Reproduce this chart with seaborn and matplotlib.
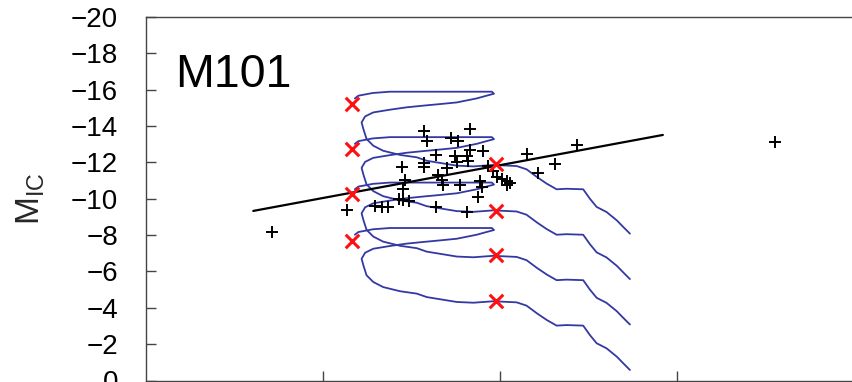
import matplotlib
matplotlib.use("Agg")
import matplotlib.pyplot as plt
import numpy as np
import pandas as pd
import seaborn as sns

# Star-cluster photometry in M101: colour and absolute Ic magnitude
cluster_color = [0.355, 0.786, 0.793, 0.915, 0.862, 0.881, 0.915, 0.953, 0.819, 0.873,
                 0.910, 0.878, 0.786, 0.786, 0.723, 0.849, 0.967, 1.075, 1.108, 1.155,
                 1.217, 0.732, 0.825, 0.835, 0.840, 0.887, 0.944, 0.949, 0.980, 0.992,
                 1.006, 1.020, 1.028, 1.020, 0.725, 0.938, 0.715, 0.727, 0.742, 0.567,
                 0.647, 0.668, 0.684, 0.819, 0.906, 1.777, 0.906]
cluster_mag = [-8.15, -13.74, -13.18, -13.84, -13.33, -13.18, -12.68, -12.65, -12.38, -12.35,
               -12.08, -12.04, -11.97, -11.73, -11.72, -11.69, -11.80, -12.46, -11.43, -11.91,
               -12.96, -11.03, -11.28, -11.03, -10.76, -10.76, -10.95, -10.67, -11.53, -11.21,
               -11.11, -10.98, -10.85, -10.73, -10.54, -10.12, -10.01, -9.93, -9.88, -9.38,
               -9.60, -9.52, -9.52, -9.57, -9.27, -13.11, -12.35]

# Linear fit through the clusters (end points)
fit_color = [0.303, 1.460]
fit_mag = [-9.33, -13.51]

# Evolutionary tracks for four cluster masses (shared colour sequence)
track_color = [0.590, 0.600, 0.641, 0.689, 0.831, 0.977, 0.983, 0.962, 0.934, 0.878,
               0.831, 0.782, 0.736, 0.689, 0.642, 0.619, 0.609, 0.614, 0.623, 0.642,
               0.670, 0.718, 0.765, 0.793, 0.831, 0.878, 0.925, 0.981, 1.047, 1.075,
               1.104, 1.132, 1.160, 1.188, 1.235, 1.254, 1.273, 1.301, 1.330, 1.348, 1.367]
track_mag_1e3 = [-8.02, -8.17, -8.32, -8.39, -8.39, -8.39, -8.28, -8.17, -8.02, -7.80,
                 -7.71, -7.62, -7.53, -7.40, -7.25, -7.03, -6.70, -6.34, -5.79, -5.42,
                 -5.14, -4.91, -4.78, -4.59, -4.47, -4.32, -4.28, -4.36, -4.30, -4.12,
                 -3.70, -3.33, -3.02, -3.05, -3.02, -2.50, -2.05, -1.77, -1.31, -0.95, -0.58]
track_mag_1e4 = [-10.52, -10.67, -10.82, -10.89, -10.89, -10.89, -10.78, -10.67, -10.52, -10.30,
                 -10.21, -10.12, -10.03, -9.90, -9.75, -9.53, -9.20, -8.84, -8.29, -7.92,
                 -7.64, -7.41, -7.28, -7.09, -6.97, -6.82, -6.78, -6.86, -6.80, -6.62,
                 -6.20, -5.83, -5.52, -5.55, -5.52, -5.00, -4.55, -4.27, -3.81, -3.45, -3.08]
track_mag_1e5 = [-13.02, -13.17, -13.32, -13.39, -13.39, -13.39, -13.28, -13.17, -13.02, -12.80,
                 -12.71, -12.62, -12.53, -12.40, -12.25, -12.03, -11.70, -11.34, -10.79, -10.42,
                 -10.14, -9.91, -9.78, -9.59, -9.47, -9.32, -9.28, -9.36, -9.30, -9.12,
                 -8.70, -8.33, -8.02, -8.05, -8.02, -7.50, -7.05, -6.77, -6.31, -5.95, -5.58]
track_mag_1e6 = [-15.52, -15.67, -15.82, -15.89, -15.89, -15.89, -15.78, -15.67, -15.52, -15.30,
                 -15.21, -15.12, -15.03, -14.90, -14.75, -14.53, -14.20, -13.84, -13.29, -12.92,
                 -12.64, -12.41, -12.28, -12.09, -11.97, -11.82, -11.78, -11.86, -11.80, -11.62,
                 -11.20, -10.83, -10.52, -10.55, -10.52, -10.00, -9.55, -9.27, -8.81, -8.45, -8.08]

# Reference ages marked on each track
age_color = [0.583, 0.583, 0.583, 0.583, 0.989, 0.989, 0.989, 0.989]
age_mag = [-15.20, -12.72, -10.24, -7.70, -11.91, -9.35, -6.91, -4.35]

y_ticks = list(range(-20, 1, 2))
x_ticks = [0.5, 1.0, 1.5]

sns.set_theme(style="ticks")
plt.rcParams["font.family"] = ["Liberation Sans", "DejaVu Sans"]
plt.rcParams["mathtext.fontset"] = "custom"
plt.rcParams["mathtext.rm"] = "Liberation Sans"
plt.rcParams["mathtext.it"] = "Liberation Sans:italic"

tracks = pd.concat([
    pd.DataFrame({"color": track_color, "mag": m, "mass": name})
    for name, m in [("1e3", track_mag_1e3), ("1e4", track_mag_1e4),
                    ("1e5", track_mag_1e5), ("1e6", track_mag_1e6)]
], ignore_index=True)

fig = plt.figure(figsize=(8.53, 3.82), dpi=100)
ax = fig.add_axes([146 / 853, 1.5 / 382, 885 / 853, 363.5 / 382])

sns.lineplot(data=tracks, x="color", y="mag", units="mass", estimator=None, sort=False,
             color="#3338a3", linewidth=1.3, ax=ax)
sns.lineplot(x=fit_color, y=fit_mag, color="black", linewidth=1.6, ax=ax)
sns.scatterplot(x=cluster_color, y=cluster_mag, marker="+", s=85, color="black",
                linewidth=1.4, ax=ax, zorder=4)
sns.scatterplot(x=age_color, y=age_mag, marker="x", s=95, color="#ff1010",
                linewidth=2.2, ax=ax, zorder=5)

ax.set_xlim(0, 2.5)
ax.set_ylim(0, -20)
ax.set_xticks(x_ticks)
ax.set_yticks(y_ticks)
ax.set_xlabel("")
ax.set_ylabel(r"M$_{\mathrm{IC}}$", fontsize=24, labelpad=17)
ax.tick_params(direction="in", length=7, width=1, color="#444444",
               labelsize=20, labelcolor="black", pad=20)
ax.tick_params(axis="x", labelbottom=False)
for side in ax.spines.values():
    side.set_color("#444444")
    side.set_linewidth(1.0)

ax.text(29 / 885, (380.5 - 87) / 363.5, "M101", transform=ax.transAxes,
        fontsize=33.5, va="baseline", ha="left", color="black")

fig.savefig("out.png", dpi=100)
